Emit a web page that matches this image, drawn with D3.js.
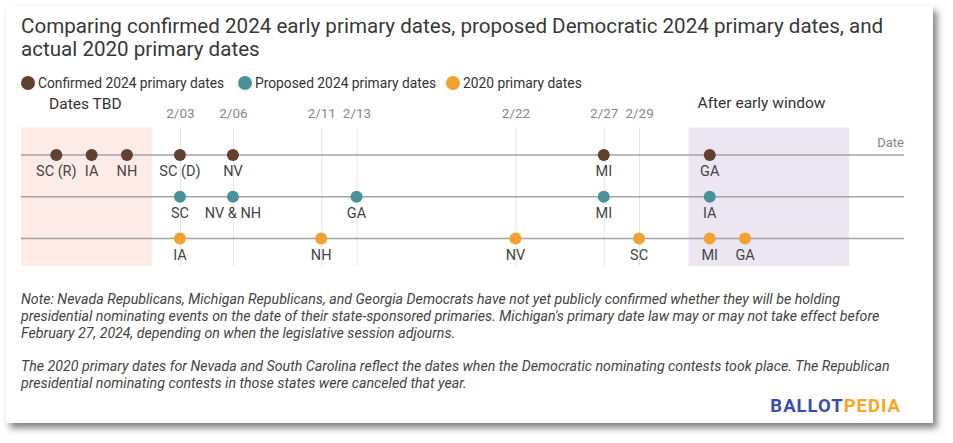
<!DOCTYPE html>
<html>
<head>
<meta charset="utf-8">
<script src="https://cdn.jsdelivr.net/npm/d3@7/dist/d3.min.js"></script>
<style>
  html, body { margin: 0; padding: 0; background: #ffffff; }
  svg { display: block; font-family: Roboto, "Noto Sans", sans-serif; }
</style>
</head>
<body>
<svg id="chart" width="953" height="443"></svg>
<script>
// ---- Data (x values are day numbers relative to Feb; TBD / after-window positions are placeholders)
const seriesNames = ["Confirmed 2024 primary dates", "Proposed 2024 primary dates", "2020 primary dates"];
const seriesColors = ["#623f2e", "#4a9199", "#f2a230"];

const confirmed2024 = [
  { state: "SC (R)", day: -4 }, { state: "IA", day: -2 }, { state: "NH", day: 0 },
  { state: "SC (D)", day: 3 }, { state: "NV", day: 6 }, { state: "MI", day: 27 }, { state: "GA", day: 33 }
];
const proposed2024 = [
  { state: "SC", day: 3 }, { state: "NV & NH", day: 6 }, { state: "GA", day: 13 },
  { state: "MI", day: 27 }, { state: "IA", day: 33 }
];
const primaries2020 = [
  { state: "IA", day: 3 }, { state: "NH", day: 11 }, { state: "NV", day: 22 },
  { state: "SC", day: 29 }, { state: "MI", day: 33 }, { state: "GA", day: 35 }
];

const tickDays = [3, 6, 11, 13, 22, 27, 29];
const tickLabels = ["2/03", "2/06", "2/11", "2/13", "2/22", "2/27", "2/29"];

const shadedRanges = [
  { label: "Dates TBD", from: -6, to: 1.4, fill: "#fdebe8" },
  { label: "After early window", from: 31.8, to: 40.9, fill: "#ebe6f2" }
];

const titleLines = [
  "Comparing confirmed 2024 early primary dates, proposed Democratic 2024 primary dates, and",
  "actual 2020 primary dates"
];
const noteLines = [
  "Note: Nevada Republicans, Michigan Republicans, and Georgia Democrats have not yet publicly confirmed whether they will be holding",
  "presidential nominating events on the date of their state-sponsored primaries. Michigan's primary date law may or may not take effect before",
  "February 27, 2024, depending on when the legislative session adjourns.",
  "",
  "The 2020 primary dates for Nevada and South Carolina reflect the dates when the Democratic nominating contests took place. The Republican",
  "presidential nominating contests in those states were canceled that year."
];

// ---- Drawing
const svg = d3.select("#chart");
const defs = svg.append("defs");
const filt = defs.append("filter").attr("id", "shadow").attr("x", "-5%").attr("y", "-5%").attr("width", "115%").attr("height", "115%");
filt.append("feDropShadow").attr("dx", 4).attr("dy", 5).attr("stdDeviation", 3.5).attr("flood-color", "#000").attr("flood-opacity", 0.5);

svg.append("rect").attr("x", 6).attr("y", 6).attr("width", 927).attr("height", 417)
  .attr("fill", "#fff").attr("filter", "url(#shadow)");

// Title
svg.append("g").selectAll("text").data(titleLines).join("text")
  .attr("x", 21).attr("y", (d, i) => 33 + i * 23)
  .attr("font-size", 20.6).attr("fill", "#383838").text(d => d);

// Legend
const legendX = [28, 245, 453];
const lg = svg.append("g").selectAll("g").data(seriesNames).join("g")
  .attr("transform", (d, i) => `translate(${legendX[i]},83)`);
lg.append("circle").attr("r", 7).attr("fill", (d, i) => seriesColors[i]);
lg.append("text").attr("x", 10).attr("y", 4.5).attr("font-size", 13.8).attr("fill", "#333").text(d => d);

// Scales
const x = d3.scaleLinear().domain([-6, 44]).range([21, 904]);
const y = d3.scalePoint().domain(seriesNames).range([155, 238.5]);
const plotTop = 127.5, plotBottom = 266;

// Shaded ranges
svg.append("g").selectAll("rect").data(shadedRanges).join("rect")
  .attr("x", d => x(d.from)).attr("width", d => x(d.to) - x(d.from))
  .attr("y", plotTop).attr("height", plotBottom - plotTop).attr("fill", d => d.fill);

svg.append("text").attr("x", (x(shadedRanges[0].from) + x(shadedRanges[0].to)) / 2 - 1).attr("y", 109)
  .attr("text-anchor", "middle").attr("font-size", 15.5).attr("fill", "#333").text(shadedRanges[0].label);
svg.append("text").attr("x", x(shadedRanges[1].from) + 9).attr("y", 108)
  .attr("font-size", 15.5).attr("fill", "#333").text(shadedRanges[1].label);

// Axis (top tick labels + vertical gridlines)
const axis = d3.axisTop(x).tickValues(tickDays).tickFormat((d, i) => tickLabels[i])
  .tickSize(-(plotBottom - plotTop)).tickPadding(10);
const ag = svg.append("g").attr("transform", `translate(0,${plotTop})`).call(axis);
ag.select(".domain").remove();
ag.selectAll(".tick line").attr("stroke", "#e4e4e4").attr("stroke-width", 1);
ag.selectAll(".tick text").attr("font-size", 13.5).attr("fill", "#888").attr("font-family", "Roboto, sans-serif");

// Row lines
svg.append("g").selectAll("line").data(seriesNames).join("line")
  .attr("x1", x(-6)).attr("x2", x(44)).attr("y1", d => y(d)).attr("y2", d => y(d))
  .attr("stroke", "#a3a3a3").attr("stroke-width", 1.6);

svg.append("text").attr("x", x(44)).attr("y", 147).attr("text-anchor", "end")
  .attr("font-size", 13).attr("fill", "#888").text("Date");

// Dots & labels
const allSeries = [confirmed2024, proposed2024, primaries2020];
allSeries.forEach((data, i) => {
  const g = svg.append("g");
  g.selectAll("circle").data(data).join("circle")
    .attr("cx", d => x(d.day)).attr("cy", y(seriesNames[i])).attr("r", 6)
    .attr("fill", seriesColors[i]);
  g.selectAll("text").data(data).join("text")
    .attr("x", d => x(d.day)).attr("y", y(seriesNames[i]) + 21)
    .attr("text-anchor", "middle").attr("font-size", 14.5).attr("fill", "#444")
    .text(d => d.state);
});

// Notes
svg.append("g").selectAll("text").data(noteLines).join("text")
  .attr("x", 21).attr("y", (d, i) => 304 + i * 16.8)
  .attr("font-size", 14.2).attr("font-style", "italic").attr("fill", "#444")
  .text(d => d);

// Logo
const logo = svg.append("text").attr("x", 901).attr("y", 412).attr("text-anchor", "end")
  .attr("font-size", 18.5).attr("font-weight", 700).attr("letter-spacing", 1);
logo.append("tspan").attr("fill", "#3b4cb0").text("BALLOT");
logo.append("tspan").attr("fill", "#f5a623").text("PEDIA");
</script>
</body>
</html>
